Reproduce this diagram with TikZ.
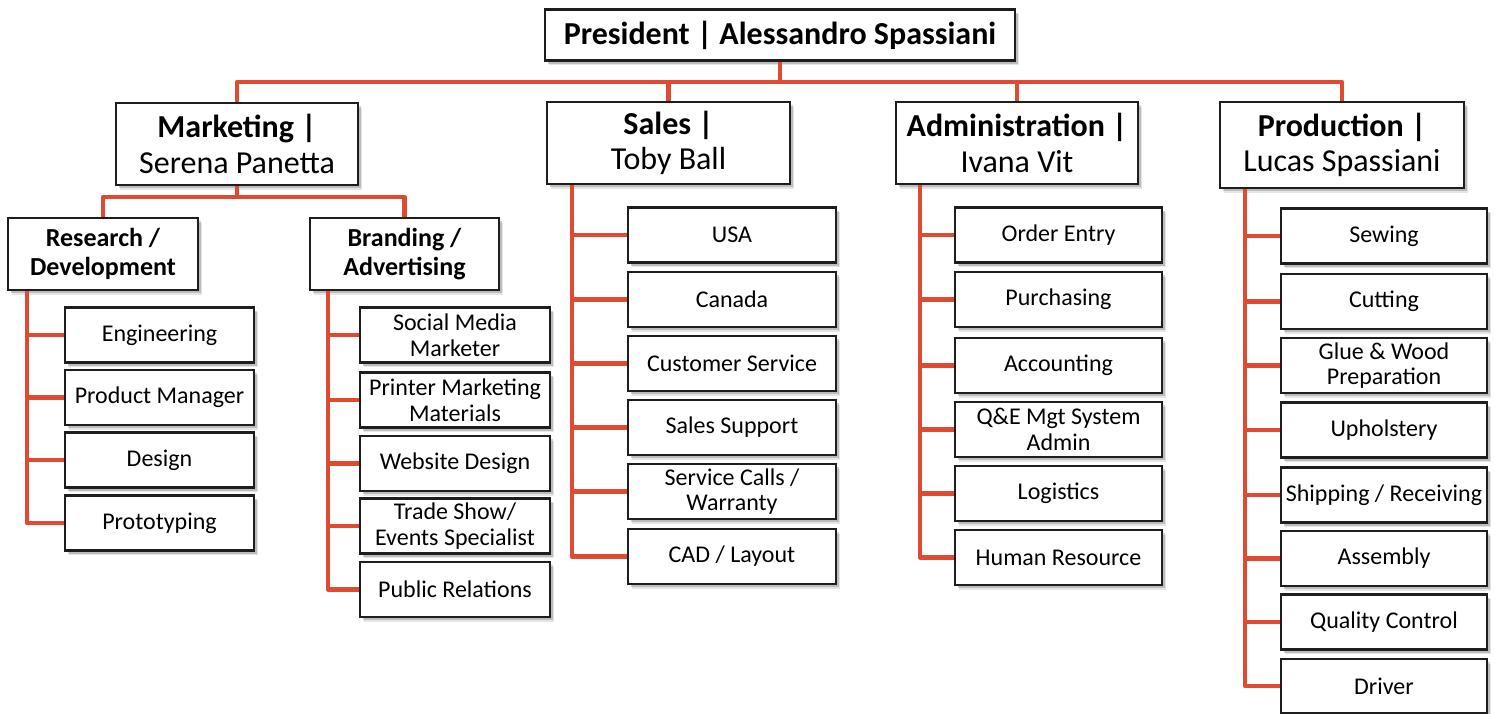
\documentclass[tikz,border=0pt]{standalone}
\usepackage{fontspec}
\setmainfont{Carlito}
\usetikzlibrary{shadows}
\definecolor{linkred}{RGB}{224,74,48}
\definecolor{boxline}{RGB}{30,30,30}
\tikzset{
  orgbox/.style={draw=boxline, line width=1.1pt, fill=white, inner sep=0pt,
    align=center,
    general shadow={shadow xshift=2.2pt, shadow yshift=-2.4pt, opacity=0.10, fill=black},
    general shadow={shadow xshift=1.4pt, shadow yshift=-1.6pt, opacity=0.18, fill=black}},
  headbox/.style={orgbox, font=\fontsize{16}{17.8}\selectfont},
  subbox/.style={orgbox, font=\fontsize{13}{14.2}\selectfont\bfseries},
  unitbox/.style={orgbox, font=\fontsize{12}{12.8}\selectfont, minimum height=27.5pt},
  link/.style={draw=linkred, line width=2.2pt, line join=round}
}
\begin{document}
\begin{tikzpicture}[x=0.5pt, y=-0.5pt]
\useasboundingbox (0,0) rectangle (1495,713);

% top level
\node[headbox, minimum width=235pt, minimum height=25.5pt] (pres) at (780,35)
  {\bfseries President | Alessandro Spassiani};

% department heads
\node[headbox, minimum width=121pt, minimum height=41pt] (mkt) at (237,144)
  {\bfseries Marketing |\\ Serena Panetta};
\node[headbox, minimum width=121.5pt, minimum height=41pt] (sales) at (668.5,143)
  {\bfseries Sales |\\ Toby Ball};
\node[headbox, minimum width=121pt, minimum height=41pt] (admin) at (1017,143)
  {\bfseries Administration |\\ Ivana Vit};
\node[headbox, minimum width=122pt, minimum height=43pt] (prod) at (1342,145)
  {\bfseries Production |\\ Lucas Spassiani};

% marketing groups
\node[subbox, minimum width=95pt, minimum height=36pt] (rd) at (103,254)
  {Research /\\ Development};
\node[subbox, minimum width=94.5pt, minimum height=36pt] (brand) at (404.5,254)
  {Branding /\\ Advertising};

% research / development units
\node[unitbox, minimum width=94.5pt] (eng) at (159.5,335) {Engineering};
\node[unitbox, minimum width=94.5pt] (pm) at (159.5,397.5) {Product Manager};
\node[unitbox, minimum width=94.5pt] (des) at (159.5,460) {Design};
\node[unitbox, minimum width=94.5pt] (proto) at (159.5,523) {Prototyping};

% branding / advertising units
\node[unitbox, minimum width=95pt] (smm) at (455,335) {Social Media\\ Marketer};
\node[unitbox, minimum width=95pt] (pmm) at (455,400) {Printer Marketing\\ Materials};
\node[unitbox, minimum width=95pt] (web) at (455,463.5) {Website Design};
\node[unitbox, minimum width=95pt] (trade) at (455,526) {Trade Show/\\ Events Specialist};
\node[unitbox, minimum width=95pt] (pr) at (455,589.5) {Public Relations};

% sales units
\node[unitbox, minimum width=104pt] (usa) at (732,235) {USA};
\node[unitbox, minimum width=104pt] (can) at (732,299.5) {Canada};
\node[unitbox, minimum width=104pt] (cust) at (732,363.5) {Customer Service};
\node[unitbox, minimum width=104pt] (supp) at (732,427.5) {Sales Support};
\node[unitbox, minimum width=104pt] (calls) at (732,491.5) {Service Calls /\\ Warranty};
\node[unitbox, minimum width=104pt] (cad) at (732,556.5) {CAD / Layout};

% administration units
\node[unitbox, minimum width=103.5pt] (order) at (1058.5,235) {Order Entry};
\node[unitbox, minimum width=103.5pt] (purch) at (1058.5,299.5) {Purchasing};
\node[unitbox, minimum width=103.5pt] (acct) at (1058.5,365.5) {Accounting};
\node[unitbox, minimum width=103.5pt] (qe) at (1058.5,429.5) {Q\&E Mgt System\\ Admin};
\node[unitbox, minimum width=103.5pt] (logi) at (1058.5,493.5) {Logistics};
\node[unitbox, minimum width=103.5pt] (hr) at (1058.5,557.5) {Human Resource};

% production units
\node[unitbox, minimum width=103pt] (sew) at (1384,236) {Sewing};
\node[unitbox, minimum width=103pt] (cut) at (1384,301.5) {Cutting};
\node[unitbox, minimum width=103pt] (glue) at (1384,365.5) {Glue \& Wood\\ Preparation};
\node[unitbox, minimum width=103pt] (uph) at (1384,430) {Upholstery};
\node[unitbox, minimum width=103pt] (ship) at (1384,495) {Shipping / Receiving};
\node[unitbox, minimum width=103pt] (asm) at (1384,558.5) {Assembly};
\node[unitbox, minimum width=103pt] (qc) at (1384,622) {Quality Control};
\node[unitbox, minimum width=103pt, minimum height=27pt] (drv) at (1384,686) {Driver};

% connectors: president to departments
\coordinate (bus) at (780,82);
\draw[link] (pres.south) -- (bus);
\foreach \d in {mkt,sales,admin,prod} \draw[link] (bus) -| (\d.north);

% connectors: marketing to its groups
\coordinate (mbus) at (237,197);
\draw[link] (mkt.south) -- (mbus);
\foreach \d in {rd,brand} \draw[link] (mbus) -| (\d.north);

% connectors: rails down the left of each column
\foreach \u in {eng,pm,des,proto} \draw[link] (rd.south west) ++(20,0) |- (\u.west);
\foreach \u in {smm,pmm,web,trade,pr} \draw[link] (brand.south west) ++(19,0) |- (\u.west);
\foreach \u in {usa,can,cust,supp,calls,cad} \draw[link] (sales.south west) ++(26,0) |- (\u.west);
\foreach \u in {order,purch,acct,qe,logi,hr} \draw[link] (admin.south west) ++(25,0) |- (\u.west);
\foreach \u in {sew,cut,glue,uph,ship,asm,qc,drv} \draw[link] (prod.south west) ++(26,0) |- (\u.west);
\end{tikzpicture}
\end{document}
